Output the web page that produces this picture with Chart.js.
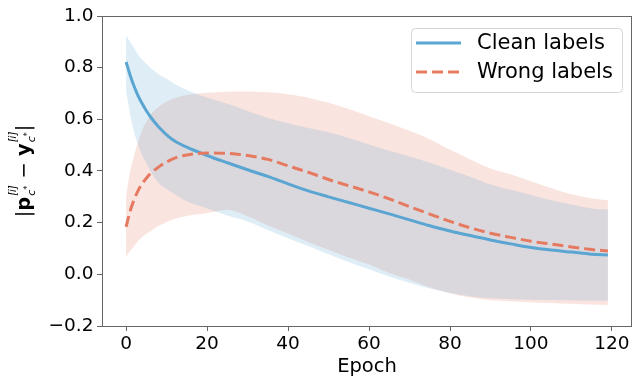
<!DOCTYPE html>
<html>
<head>
<meta charset="utf-8">
<script src="https://cdn.jsdelivr.net/npm/chart.js@4.4.0/dist/chart.umd.min.js"></script>
<style>
  html, body { margin: 0; padding: 0; background: #fff; }
  #wrap { width: 634px; height: 376px; }
</style>
</head>
<body>
<div id="wrap"><canvas id="myChart" width="634" height="376"></canvas></div>
<script>
// values
const epochs = [0, 1, 2, 3, 4, 5, 6, 8, 10, 12, 15, 20, 25, 30, 35, 40, 45, 50, 55, 60, 65, 70, 75, 80, 85, 90, 95, 100, 105, 110, 115, 119];

const cleanMean  = [0.822, 0.771, 0.727, 0.69, 0.66, 0.633, 0.61, 0.571, 0.54, 0.516, 0.492, 0.46, 0.432, 0.405, 0.379, 0.35, 0.323, 0.3, 0.278, 0.256, 0.234, 0.211, 0.188, 0.168, 0.15, 0.133, 0.118, 0.104, 0.094, 0.086, 0.078, 0.075];
const cleanUpper = [0.925, 0.9, 0.875, 0.85, 0.83, 0.815, 0.8, 0.775, 0.757, 0.737, 0.714, 0.685, 0.66, 0.632, 0.605, 0.585, 0.566, 0.55, 0.528, 0.503, 0.478, 0.456, 0.432, 0.405, 0.378, 0.348, 0.327, 0.307, 0.287, 0.27, 0.255, 0.251];
const cleanLower = [0.71, 0.62, 0.55, 0.5, 0.46, 0.43, 0.4, 0.355, 0.33, 0.31, 0.283, 0.255, 0.228, 0.205, 0.172, 0.14, 0.11, 0.078, 0.048, 0.02, -0.008, -0.033, -0.055, -0.072, -0.085, -0.093, -0.096, -0.098, -0.099, -0.1, -0.101, -0.102];

const wrongMean  = [0.184, 0.245, 0.29, 0.325, 0.352, 0.372, 0.39, 0.415, 0.435, 0.45, 0.462, 0.47, 0.468, 0.46, 0.445, 0.42, 0.395, 0.367, 0.343, 0.319, 0.292, 0.262, 0.233, 0.205, 0.18, 0.159, 0.143, 0.128, 0.117, 0.106, 0.096, 0.09];
const wrongUpper = [0.3, 0.4, 0.46, 0.515, 0.56, 0.59, 0.618, 0.648, 0.668, 0.682, 0.694, 0.703, 0.707, 0.708, 0.705, 0.697, 0.684, 0.664, 0.64, 0.612, 0.585, 0.556, 0.523, 0.482, 0.445, 0.41, 0.387, 0.36, 0.333, 0.31, 0.294, 0.287];
const wrongLower = [0.068, 0.09, 0.11, 0.13, 0.145, 0.157, 0.167, 0.187, 0.203, 0.215, 0.226, 0.237, 0.25, 0.225, 0.19, 0.158, 0.125, 0.095, 0.065, 0.038, 0.005, -0.02, -0.05, -0.073, -0.09, -0.1, -0.104, -0.108, -0.111, -0.114, -0.117, -0.119];

const xTicks = [0, 20, 40, 60, 80, 100, 120];
const yTicks = [-0.2, 0.0, 0.2, 0.4, 0.6, 0.8, 1.0];

const BLUE = 'rgb(90,165,210)';
const RED = 'rgb(230,122,97)';
const FONT = '"DejaVu Sans", sans-serif';
const AXIS = '#666';

const pts = arr => epochs.map((e, i) => ({ x: e, y: arr[i] }));

function band(label, arr, color, fill) {
  return {
    label, data: pts(arr), borderWidth: 0, pointRadius: 0,
    backgroundColor: color, fill: fill, order: 2,
    cubicInterpolationMode: 'monotone', isBand: true
  };
}

// y axis title |p_c*^[i] - y_c*^[i]| drawn piece by piece
const yTitlePlugin = {
  id: 'yTitle',
  afterDraw(chart) {
    const ctx = chart.ctx;
    const big = 19.5;
    const pieces = [
      { t: '|', f: big + 'px ' + FONT },
      { t: 'p', f: 'bold ' + big + 'px ' + FONT },
      { script: true },
      { t: ' \u2212 ', f: big + 'px ' + FONT },
      { t: 'y', f: 'bold ' + big + 'px ' + FONT },
      { script: true },
      { t: '|', f: big + 'px ' + FONT }
    ];
    function w(p) {
      if (p.script) {
        ctx.font = 'italic 10px ' + FONT;
        const a = ctx.measureText('[i]').width;
        ctx.font = 'italic 11px ' + FONT;
        const b = ctx.measureText('c').width;
        ctx.font = '8px ' + FONT;
        return Math.max(a, b + ctx.measureText('*').width) + 1.5;
      }
      ctx.font = p.f;
      return ctx.measureText(p.t).width;
    }
    const total = pieces.reduce((s, p) => s + w(p), 0);
    const a = chart.chartArea;
    ctx.save();
    ctx.translate(30, (a.top + a.bottom) / 2);
    ctx.rotate(-Math.PI / 2);
    ctx.fillStyle = '#000';
    ctx.textBaseline = 'alphabetic';
    let x = -total / 2;
    pieces.forEach(p => {
      const pw = w(p);
      if (p.script) {
        ctx.font = 'italic 10px ' + FONT;
        ctx.fillText('[i]', x + 1, -14.5);
        ctx.font = 'italic 11px ' + FONT;
        ctx.fillText('c', x + 1, 5);
        const cw = ctx.measureText('c').width;
        ctx.font = '8px ' + FONT;
        ctx.fillText('*', x + 1 + cw, 0);
      } else {
        ctx.font = p.f;
        ctx.fillText(p.t, x, 0);
      }
      x += pw;
    });
    ctx.restore();
  }
};

// frame and legend drawn like matplotlib
const framePlugin = {
  id: 'frame',
  afterDraw(chart) {
    const ctx = chart.ctx, a = chart.chartArea;
    ctx.save();
    ctx.strokeStyle = AXIS;
    ctx.lineWidth = 1;
    ctx.strokeRect(Math.round(a.left) + 0.5, Math.round(a.top) + 0.5,
      Math.round(a.right - a.left) - 1, Math.round(a.bottom - a.top));

    // legend
    const bx = 411, by = 28, bw = 211, bh = 64;
    ctx.beginPath();
    ctx.roundRect(bx + 0.5, by + 0.5, bw, bh, 4);
    ctx.fillStyle = 'rgba(255,255,255,0.8)';
    ctx.fill();
    ctx.strokeStyle = '#d6d6d6';
    ctx.stroke();
    const items = chart.data.datasets.filter(d => !d.isBand);
    items.forEach((d, i) => {
      const y = 43 + i * 29;
      ctx.beginPath();
      ctx.strokeStyle = d.borderColor;
      ctx.lineWidth = 3;
      ctx.setLineDash(d.borderDash || []);
      ctx.moveTo(416, y);
      ctx.lineTo(461, y);
      ctx.stroke();
      ctx.setLineDash([]);
      ctx.fillStyle = '#000';
      ctx.font = '21px ' + FONT;
      ctx.textBaseline = 'middle';
      ctx.fillText(d.label, 477, y + 1);
    });
    ctx.restore();
  }
};

new Chart(document.getElementById('myChart'), {
  type: 'line',
  data: {
    datasets: [
      band('clean upper', cleanUpper, 'rgba(90,165,210,0.2)', '+1'),
      band('clean lower', cleanLower, 'rgba(90,165,210,0.2)', false),
      band('wrong upper', wrongUpper, 'rgba(230,122,97,0.2)', '+1'),
      band('wrong lower', wrongLower, 'rgba(230,122,97,0.2)', false),
      {
        label: 'Clean labels', data: pts(cleanMean), borderColor: BLUE,
        borderWidth: 3, pointRadius: 0, fill: false, order: 1,
        cubicInterpolationMode: 'monotone'
      },
      {
        label: 'Wrong labels', data: pts(wrongMean), borderColor: RED,
        borderWidth: 3, borderDash: [11, 5], pointRadius: 0, fill: false, order: 0,
        cubicInterpolationMode: 'monotone'
      }
    ]
  },
  options: {
    responsive: false,
    animation: false,
    layout: { padding: { top: 16, right: 2, left: 0, bottom: 0 } },
    plugins: {
      legend: { display: false },
      tooltip: { enabled: false },
      filler: { drawTime: 'beforeDatasetsDraw' }
    },
    scales: {
      x: {
        type: 'linear', min: -5.95, max: 124.95,
        grid: { drawOnChartArea: false, tickLength: 5, color: AXIS },
        border: { display: false },
        afterBuildTicks: s => { s.ticks = xTicks.map(v => ({ value: v })); },
        afterFit: s => { s.height = 50; },
        ticks: { color: '#000', font: { family: FONT, size: 18.5 }, padding: 2, maxRotation: 0 },
        title: { display: true, text: 'Epoch', color: '#000', font: { family: FONT, size: 19.5 }, padding: { top: 0, bottom: -3 } }
      },
      y: {
        min: -0.2, max: 1.0,
        grid: { drawOnChartArea: false, tickLength: 5, color: AXIS },
        border: { display: false },
        afterBuildTicks: s => { s.ticks = yTicks.map(v => ({ value: v })); },
        afterFit: s => { s.width = 102; },
        ticks: {
          color: '#000', font: { family: FONT, size: 18.5 }, padding: 3.5,
          callback: v => { const r = Math.round(v * 10) / 10; return (r < 0 ? '\u2212' : '') + Math.abs(r).toFixed(1); }
        }
      }
    }
  },
  plugins: [yTitlePlugin, framePlugin]
});
</script>
</body>
</html>
